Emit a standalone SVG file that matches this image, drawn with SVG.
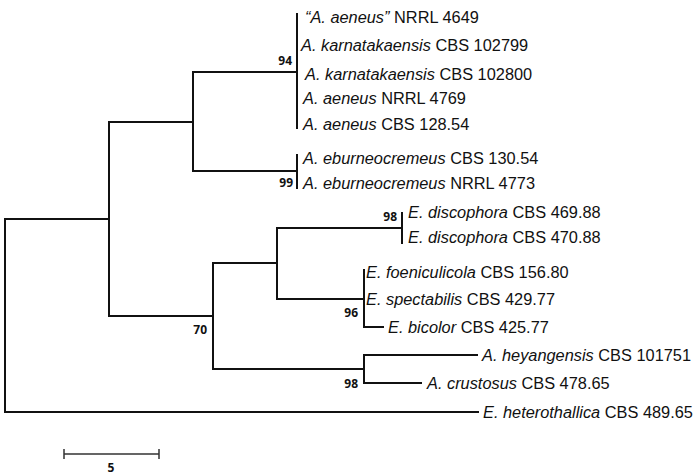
<svg xmlns="http://www.w3.org/2000/svg" width="700" height="476" viewBox="0 0 700 476">
<style>
.br{fill:none;stroke:#111;stroke-width:2;stroke-linecap:square;stroke-linejoin:miter}
.lb{font-family:"Liberation Sans",Arial,sans-serif;font-size:16.35px;fill:#111}
.sp{font-style:italic}
.bs{font-family:"Open Sans","DejaVu Sans",sans-serif;font-size:12px;font-weight:bold;fill:#111;text-anchor:end}
.sc{fill:none;stroke:#333;stroke-width:1.5}
</style>
<rect width="700" height="476" fill="#fff"/>
<g id="connectors">
<path class="br" d="M5,219V412M5,219H109M109,122V316M109,122H193M193,72V171M193,72H297M297,14V128M193,171H297M297,155V188"/>
<path class="br" d="M109,316H213M213,263V369M213,263H277M277,228V299M277,228H402M402,213V243M277,299H364M364,270V327M364,327H383M213,369H364M364,355V383M364,355H477M364,383H421"/>
<path class="br" d="M5,412H478"/>
</g>
<g id="node-94"><text class="bs" x="292" y="65">94</text></g>
<g id="node-99"><text class="bs" x="293" y="187">99</text></g>
<g id="node-98a"><text class="bs" x="397" y="221">98</text></g>
<g id="node-96"><text class="bs" x="358" y="317">96</text></g>
<g id="node-70"><text class="bs" x="207" y="334">70</text></g>
<g id="node-98b"><text class="bs" x="358" y="388">98</text></g>
<g id="leaf1"><text class="lb" x="305" y="23"><tspan class="sp">“A. aeneus”</tspan> NRRL 4649</text></g>
<g id="leaf2"><text class="lb" x="301" y="51"><tspan class="sp">A. karnatakaensis</tspan> CBS 102799</text></g>
<g id="leaf3"><text class="lb" x="305" y="80"><tspan class="sp">A. karnatakaensis</tspan> CBS 102800</text></g>
<g id="leaf4"><text class="lb" x="303" y="104"><tspan class="sp">A. aeneus</tspan> NRRL 4769</text></g>
<g id="leaf5"><text class="lb" x="303" y="130"><tspan class="sp">A. aeneus</tspan> CBS 128.54</text></g>
<g id="leaf6"><text class="lb" x="303" y="164"><tspan class="sp">A. eburneocremeus</tspan> CBS 130.54</text></g>
<g id="leaf7"><text class="lb" x="303" y="189"><tspan class="sp">A. eburneocremeus</tspan> NRRL 4773</text></g>
<g id="leaf8"><text class="lb" x="408" y="218"><tspan class="sp">E. discophora</tspan> CBS 469.88</text></g>
<g id="leaf9"><text class="lb" x="408" y="243"><tspan class="sp">E. discophora</tspan> CBS 470.88</text></g>
<g id="leaf10"><text class="lb" x="366" y="278"><tspan class="sp">E. foeniculicola</tspan> CBS 156.80</text></g>
<g id="leaf11"><text class="lb" x="366" y="305"><tspan class="sp">E. spectabilis</tspan> CBS 429.77</text></g>
<g id="leaf12"><text class="lb" x="388" y="333"><tspan class="sp">E. bicolor</tspan> CBS 425.77</text></g>
<g id="leaf13"><text class="lb" x="482" y="361"><tspan class="sp">A. heyangensis</tspan> CBS 101751</text></g>
<g id="leaf14"><text class="lb" x="427" y="389"><tspan class="sp">A. crustosus</tspan> CBS 478.65</text></g>
<g id="leaf15"><text class="lb" x="483" y="418"><tspan class="sp">E. heterothallica</tspan> CBS 489.65</text></g>
<g id="scale-bar">
<path class="sc" d="M64,454H159M64,449V459M159,449V459"/>
<text class="bs" x="111" y="472" style="text-anchor:middle">5</text>
</g>
</svg>
